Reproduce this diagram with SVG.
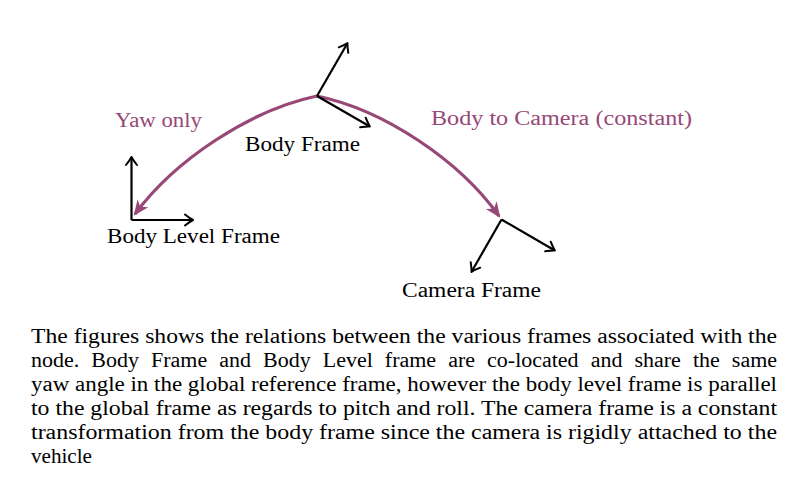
<svg xmlns="http://www.w3.org/2000/svg" width="811" height="490" viewBox="0 0 811 490">
<defs>
<marker id="ax" markerUnits="userSpaceOnUse" markerWidth="16" markerHeight="16" viewBox="-10 -8 14 16" refX="0" refY="0" orient="auto">
<path d="M-7,-5.5 Q-2,-1.5 1,0 Q-2,1.5 -7,5.5" fill="none" stroke="#000" stroke-width="2" stroke-linecap="round" stroke-linejoin="round"/>
</marker>
<marker id="st" markerUnits="userSpaceOnUse" markerWidth="20" markerHeight="20" viewBox="-14 -8 18 16" refX="0" refY="0" orient="auto">
<path d="M2,0 L-12,-6 L-8,0 L-12,6 Z" fill="#974877"/>
</marker>
<style>
.axis{stroke:#000;stroke-width:2.2;fill:none;marker-end:url(#ax)}
.rel{stroke:#974877;stroke-width:3.2;fill:none;marker-end:url(#st)}
.lbl{fill:#000}
.rlbl{fill:#974877}
.para{fill:#000}
</style>
</defs>
<rect width="811" height="490" fill="#fff"/>
<g font-family="Liberation Serif, DejaVu Serif, serif" font-size="20">
<g id="connectors">
<path class="rel" d="M317,96 C250,110 175,160 135,214"/>
<path class="rel" d="M317,96 C384,110 459,160 499,216"/>
<text class="rlbl" x="115" y="127" textLength="87" lengthAdjust="spacingAndGlyphs">Yaw only</text>
<text class="rlbl" x="431" y="125" textLength="261" lengthAdjust="spacingAndGlyphs">Body to Camera (constant)</text>
</g>
<g id="body-frame">
<line class="axis" x1="317" y1="96" x2="347" y2="44"/>
<line class="axis" x1="317" y1="96" x2="369" y2="126"/>
<text class="lbl" x="245" y="151" textLength="115" lengthAdjust="spacingAndGlyphs">Body Frame</text>
</g>
<g id="body-level-frame">
<line class="axis" x1="131.5" y1="220" x2="131.5" y2="158"/>
<line class="axis" x1="131.5" y1="220" x2="192" y2="220"/>
<text class="lbl" x="107" y="243" textLength="173" lengthAdjust="spacingAndGlyphs">Body Level Frame</text>
</g>
<g id="camera-frame">
<line class="axis" x1="501.5" y1="219.5" x2="554" y2="250"/>
<line class="axis" x1="501.5" y1="219.5" x2="472" y2="271"/>
<text class="lbl" x="402" y="297" textLength="139" lengthAdjust="spacingAndGlyphs">Camera Frame</text>
</g>
<g id="caption">
<text class="para" x="31" y="343" textLength="746" lengthAdjust="spacingAndGlyphs">The figures shows the relations between the various frames associated with the</text>
<text class="para" x="31" y="367" textLength="746" lengthAdjust="spacingAndGlyphs" word-spacing="6">node.  Body Frame and Body Level frame are co-located and share the same</text>
<text class="para" x="31" y="391" textLength="746" lengthAdjust="spacingAndGlyphs">yaw angle in the global reference frame, however the body level frame is parallel</text>
<text class="para" x="31" y="415" textLength="746" lengthAdjust="spacingAndGlyphs">to the global frame as regards to pitch and roll. The camera frame is a constant</text>
<text class="para" x="31" y="439" textLength="746" lengthAdjust="spacingAndGlyphs">transformation from the body frame since the camera is rigidly attached to the</text>
<text class="para" x="31" y="463" textLength="61" lengthAdjust="spacingAndGlyphs">vehicle</text>
</g>
</g>
</svg>
